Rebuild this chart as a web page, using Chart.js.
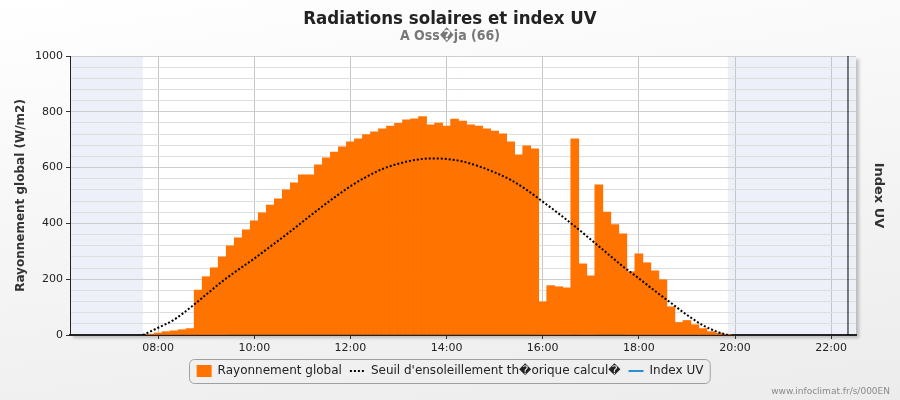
<!DOCTYPE html>
<html lang="fr">
<head>
<meta charset="UTF-8">
<title>Radiations solaires et index UV</title>
<script src="https://cdn.jsdelivr.net/npm/chart.js"></script>
<style>
  html, body { margin: 0; padding: 0; }
  body { width: 900px; height: 400px; overflow: hidden;
         background: linear-gradient(172deg, #ffffff 0%, #f6f6f6 45%, #ececec 100%); }
  canvas { display: block; }
</style>
</head>
<body>
<canvas id="chart" width="900" height="400"></canvas>
<script>
// 10-minute global radiation (W/m2)
const barTimes = [
  '07:50','08:00','08:10','08:20','08:30','08:40','08:50','09:00','09:10','09:20',
  '09:30','09:40','09:50','10:00','10:10','10:20','10:30','10:40','10:50','11:00',
  '11:10','11:20','11:30','11:40','11:50','12:00','12:10','12:20','12:30','12:40',
  '12:50','13:00','13:10','13:20','13:30','13:40','13:50','14:00','14:10','14:20',
  '14:30','14:40','14:50','15:00','15:10','15:20','15:30','15:40','15:50','16:00',
  '16:10','16:20','16:30','16:40','16:50','17:00','17:10','17:20','17:30','17:40',
  '17:50','18:00','18:10','18:20','18:30','18:40','18:50','19:00','19:10','19:20',
  '19:30','19:40','19:50'
];
const barValues = [
  3, 7, 12, 15, 19, 23, 161, 209, 241, 280,
  320, 348, 377, 409, 438, 466, 488, 520, 545, 574,
  574, 610, 635, 656, 674, 692, 703, 718, 728, 739,
  749, 759, 771, 775, 783, 753, 760, 749, 774, 767,
  753, 749, 739, 731, 721, 692, 646, 678, 667, 119,
  177, 173, 169, 703, 255, 212, 538, 441, 396, 363,
  227, 291, 259, 230, 198, 101, 45, 52, 37, 23,
  12, 7, 2
];

// theoretical clear-sky threshold
const curveTimes = [
  '07:41','08:00','08:20','08:40','09:00','09:20','09:40','10:00','10:20','10:40',
  '11:00','11:20','11:40','12:00','12:20','12:40','13:00','13:20','13:40','14:00',
  '14:20','14:40','15:00','15:20','15:40','16:00','16:20','16:40','17:00','17:20',
  '17:40','18:00','18:20','18:40','19:00','19:20','19:40','19:51'
];
const curveValues = [
  0, 26, 55, 98, 145, 192, 234, 274, 317, 360,
  405, 450, 493, 533, 567, 595, 614, 627, 633, 631,
  622, 605, 583, 556, 520, 478, 435, 390, 342, 294,
  246, 203, 158, 115, 72, 35, 9, 0
];

// UV index: no values in the picture
const uvTimes = [];
const uvValues = [];

const hourTicks = ['08:00','10:00','12:00','14:00','16:00','18:00','20:00','22:00'];
const axisStart = '06:10';
const axisEnd = '22:31';
const sunrise = '07:41';
const sunset = '19:51';
const markerTime = '22:21';

function toHours(t) {
  const [h, m] = t.split(':').map(Number);
  return h + m / 60;
}
function toLabel(v) {
  let h = Math.floor(v + 1e-6);
  let m = Math.round((v - h) * 60);
  return String(h).padStart(2, '0') + ':' + String(m).padStart(2, '0');
}

const plotBackground = {
  id: 'plotBackground',
  beforeDraw(chart) {
    const { ctx, chartArea: a } = chart;
    const x = chart.scales.x;
    ctx.save();
    ctx.shadowColor = 'rgba(0,0,0,0.22)';
    ctx.shadowOffsetX = 3;
    ctx.shadowOffsetY = 3;
    ctx.shadowBlur = 3;
    ctx.fillStyle = '#ffffff';
    ctx.fillRect(a.left, a.top, a.width, a.height);
    ctx.restore();

    ctx.save();
    ctx.fillStyle = '#edf0f8';
    const xr = x.getPixelForValue(toHours(sunrise));
    const xs = x.getPixelForValue(toHours(sunset));
    ctx.fillRect(a.left, a.top, xr - a.left, a.height);
    ctx.fillRect(xs, a.top, a.right - xs, a.height);
    ctx.restore();
  }
};

const legendFrame = {
  id: 'legendFrame',
  afterDraw(chart) {
    const { ctx } = chart;
    const boxes = chart.legend.legendHitBoxes;
    if (boxes && boxes.length) {
      const left = Math.min(...boxes.map(b => b.left)) - 8;
      const right = Math.max(...boxes.map(b => b.left + b.width)) + 6;
      const top = boxes[0].top - 6;
      const bottom = boxes[0].top + boxes[0].height + 6;
      ctx.save();
      ctx.strokeStyle = '#a0a0a0';
      ctx.lineWidth = 1;
      ctx.beginPath();
      ctx.roundRect(Math.round(left) + 0.5, Math.round(top) + 0.5, right - left, bottom - top, 5);
      ctx.stroke();
      ctx.restore();
    }
    ctx.save();
    ctx.font = '9px "DejaVu Sans"';
    ctx.fillStyle = '#8a8a8a';
    ctx.textAlign = 'right';
    ctx.textBaseline = 'middle';
    ctx.fillText('www.infoclimat.fr/s/000EN', 890, 392);
    ctx.restore();
  }
};

Chart.defaults.font.family = '"DejaVu Sans", sans-serif';

const ctx = document.getElementById('chart').getContext('2d');
new Chart(ctx, {
  type: 'bar',
  data: {
    datasets: [
      {
        type: 'bar',
        label: 'Rayonnement global',
        data: barTimes.map((t, i) => ({ x: toHours(t), y: barValues[i] })),
        backgroundColor: '#ff7300',
        borderWidth: 0,
        barPercentage: 1,
        categoryPercentage: 1,
        order: 3
      },
      {
        type: 'line',
        label: 'Seuil d\'ensoleillement th\uFFFDorique calcul\uFFFD',
        data: curveTimes.map((t, i) => ({ x: toHours(t), y: curveValues[i] })),
        borderColor: '#000000',
        backgroundColor: '#000000',
        borderWidth: 2,
        borderDash: [2, 2],
        pointRadius: 0,
        cubicInterpolationMode: 'monotone',
        order: 1
      },
      {
        type: 'line',
        label: 'Index UV',
        data: uvTimes.map((t, i) => ({ x: toHours(t), y: uvValues[i] })),
        borderColor: '#2a8fd0',
        backgroundColor: '#2a8fd0',
        borderWidth: 2,
        pointRadius: 0,
        yAxisID: 'uv',
        order: 0
      },
      {
        type: 'line',
        label: '',
        data: [{ x: toHours(markerTime), y: 0 }, { x: toHours(markerTime), y: 1000 }],
        borderColor: '#000000',
        borderWidth: 1,
        pointRadius: 0,
        order: 0
      }
    ]
  },
  options: {
    responsive: false,
    devicePixelRatio: 1,
    animation: false,
    layout: { padding: { left: 0, right: 0, top: 0, bottom: 13 } },
    plugins: {
      title: {
        display: true,
        text: 'Radiations solaires et index UV',
        color: '#222222',
        font: { family: '"DejaVu Sans Condensed", "DejaVu Sans"', size: 18.5, weight: 'bold' },
        padding: { top: 8, bottom: -2 }
      },
      subtitle: {
        display: true,
        text: 'A Oss\uFFFDja (66)',
        color: '#777777',
        font: { family: '"DejaVu Sans Condensed", "DejaVu Sans"', size: 14, weight: 'bold' },
        padding: { top: 0, bottom: 11 }
      },
      legend: {
        position: 'bottom',
        labels: {
          usePointStyle: true,
          pointStyleWidth: 15,
          boxHeight: 12,
          padding: 8,
          color: '#222222',
          font: { size: 12 },
          filter: item => item.text !== '',
          sort: (a, b) => a.datasetIndex - b.datasetIndex,
          generateLabels(chart) {
            const items = Chart.defaults.plugins.legend.labels.generateLabels(chart);
            items.forEach(it => {
              const ds = chart.data.datasets[it.datasetIndex];
              if (ds.type === 'line') {
                it.pointStyle = 'line';
                it.strokeStyle = ds.borderColor;
                it.lineWidth = ds.borderWidth;
                it.lineDash = ds.borderDash || [];
              } else {
                it.pointStyle = 'rect';
              }
            });
            return items;
          }
        }
      },
      tooltip: { enabled: false }
    },
    scales: {
      x: {
        type: 'linear',
        min: toHours(axisStart),
        max: toHours(axisEnd),
        offset: false,
        afterBuildTicks: s => { s.ticks = hourTicks.map(t => ({ value: toHours(t) })); },
        afterFit: s => { s.height = 22; },
        ticks: {
          callback: v => toLabel(v),
          color: '#222222',
          font: { size: 11 },
          padding: 3,
          maxRotation: 0,
          autoSkip: false
        },
        grid: { offset: false, color: '#c6c6c6', tickColor: '#333333', tickLength: 4 },
        border: { color: '#222222', width: 2 }
      },
      y: {
        position: 'left',
        min: 0,
        max: 1000,
        afterFit: s => { s.width = 70; },
        ticks: {
          stepSize: 40,
          callback: v => (v % 200 === 0 ? v : ''),
          color: '#222222',
          font: { size: 11 },
          padding: 3,
          autoSkip: false
        },
        grid: {
          color: c => (c.tick.value % 200 === 0 ? '#cdcdcd' : '#dedede'),
          tickColor: c => (c.tick.value % 200 === 0 ? '#333333' : 'rgba(0,0,0,0)'),
          tickLength: 4
        },
        border: { color: '#222222', width: 1 },
        title: {
          display: true,
          text: 'Rayonnement global (W/m2)',
          color: '#333333',
          font: { size: 12, weight: 'bold' },
          padding: { top: 14, bottom: 0 }
        }
      },
      uv: {
        position: 'right',
        min: 0,
        max: 10,
        afterFit: s => { s.width = 44; },
        grid: { display: false },
        ticks: { display: false },
        border: { display: false },
        title: {
          display: true,
          text: 'Index UV',
          color: '#333333',
          font: { size: 13, weight: 'bold' },
          padding: { top: 14, bottom: 0 }
        }
      }
    }
  },
  plugins: [plotBackground, legendFrame]
});
</script>
</body>
</html>
